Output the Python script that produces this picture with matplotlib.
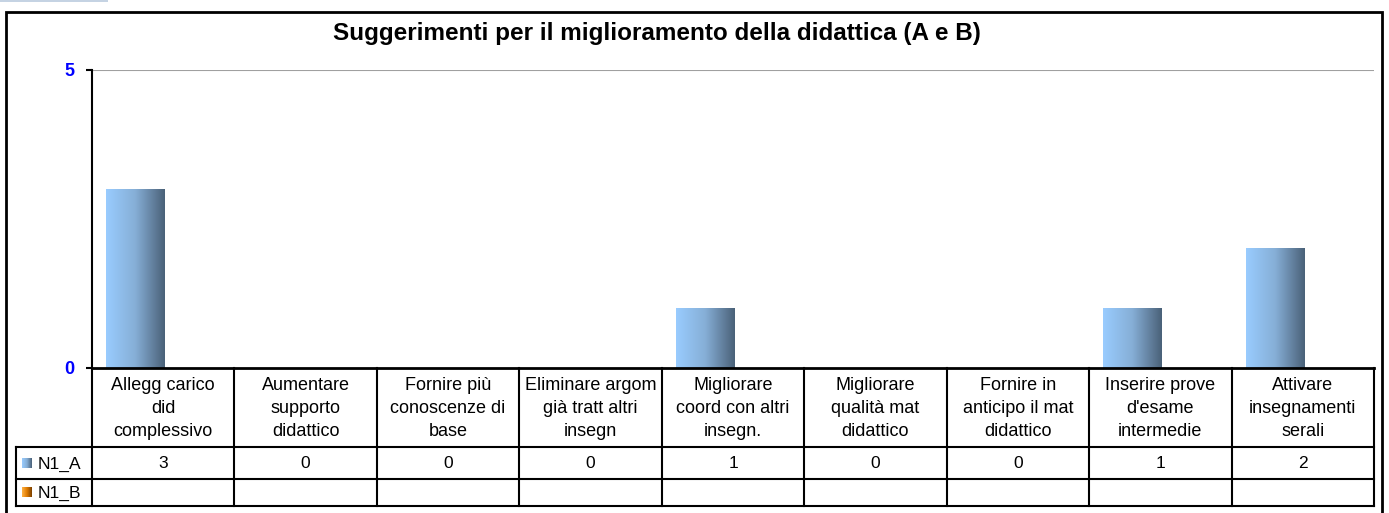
import numpy as np
import matplotlib
matplotlib.use('Agg')
import matplotlib.pyplot as plt
from matplotlib.patches import Rectangle
from matplotlib.colors import LinearSegmentedColormap

plt.rcParams['font.family'] = ['Liberation Sans', 'DejaVu Sans']

# dati
categorie = ['Allegg carico\ndid\ncomplessivo', 'Aumentare\nsupporto\ndidattico',
             'Fornire più\nconoscenze di\nbase', 'Eliminare argom\ngià tratt altri\ninsegn',
             'Migliorare\ncoord con altri\ninsegn.', 'Migliorare\nqualità mat\ndidattico',
             'Fornire in\nanticipo il mat\ndidattico', 'Inserire prove\nd\'esame\nintermedie',
             'Attivare\ninsegnamenti\nserali']
n1_a = [3, 0, 0, 0, 1, 0, 0, 1, 2]
n1_b = [None] * 9
serie = ['N1_A', 'N1_B']
titolo = 'Suggerimenti per il miglioramento della didattica (A e B)'

W, H = 1389, 513
fig = plt.figure(figsize=(W / 100, H / 100), dpi=100)

# cornice esterna
fig.patches.append(Rectangle((6 / W, -0.01), 1376 / W, (H - 12) / H + 0.01,
                             transform=fig.transFigure, fill=False, ec='black', lw=2))
fig.patches.append(Rectangle((0, (H - 2) / H), 108 / W, 2 / H,
                             transform=fig.transFigure, fc='#c5d3e3', ec='none'))

x0, x1, y0, y1 = 92, 1374, 368, 70
ax = fig.add_axes([x0 / W, (H - y0) / H, (x1 - x0) / W, (y0 - y1) / H])
ax.set_xlim(0, 9)
ax.set_ylim(0, 5)

cmap_a = LinearSegmentedColormap.from_list('a', ['#99ccff', '#86aed6', '#4a6178'])
grad = np.linspace(0, 1, 256).reshape(1, -1)
bw = 0.41
for i, v in enumerate(n1_a):
    if v:
        ax.imshow(grad, cmap=cmap_a, aspect='auto', extent=(i + 0.1, i + 0.1 + bw, 0, v),
                  zorder=2)

ax.axhline(5, color='#a0a0a0', lw=1.5, zorder=1)
ax.set_yticks([0, 5])
ax.set_yticklabels(['0', '5'], color='#0000ff', fontweight='bold', fontsize=13)
ax.set_xticks([])
for s in ['top', 'right']:
    ax.spines[s].set_visible(False)
ax.spines['left'].set_linewidth(1.5)
ax.spines['bottom'].set_linewidth(2)
ax.tick_params(axis='y', length=4.5, width=1.5, pad=8)

fig.text(657 / W, (H - 40) / H, titolo, ha='center', va='baseline',
         fontsize=17.5, fontweight='bold')

# tabella
tx = fig.add_axes([0, 0, 1, 1], facecolor='none')
tx.set_xlim(0, W)
tx.set_ylim(H, 0)
tx.axis('off')
cw = (x1 - x0) / 9
ya, yb, yc, yd = 368, 447, 479, 506
lk = dict(color='black', lw=1.5)
tx.plot([16, x1], [yb, yb], **lk)
tx.plot([16, x1], [yc, yc], **lk)
tx.plot([16, x1], [yd, yd], **lk)
tx.plot([16, 16], [yb, yd], **lk)
for i in range(10):
    xx = x0 + i * cw
    tx.plot([xx, xx], [ya, yd], **lk)
for i, c in enumerate(categorie):
    cx = x0 + (i + 0.5) * cw
    tx.text(cx, (ya + yb) / 2 + 1, c, ha='center', va='center', fontsize=13,
            linespacing=1.5)
    tx.text(cx, (yb + yc) / 2 + 1, str(n1_a[i]), ha='center', va='center', fontsize=12.5)
cmap_b = LinearSegmentedColormap.from_list('b', ['#ffb347', '#e07b00', '#7a4000'])
for k, (nome, cm) in enumerate(zip(serie, [cmap_a, cmap_b])):
    yy = [(yb + yc) / 2, (yc + yd) / 2][k]
    tx.imshow(grad, cmap=cm, aspect='auto', extent=(22, 32, yy + 5, yy - 5))
    tx.text(38, yy + 1, nome, ha='left', va='center', fontsize=12.5)
tx.set_xlim(0, W)
tx.set_ylim(H, 0)

fig.savefig('out.png', dpi=100)
